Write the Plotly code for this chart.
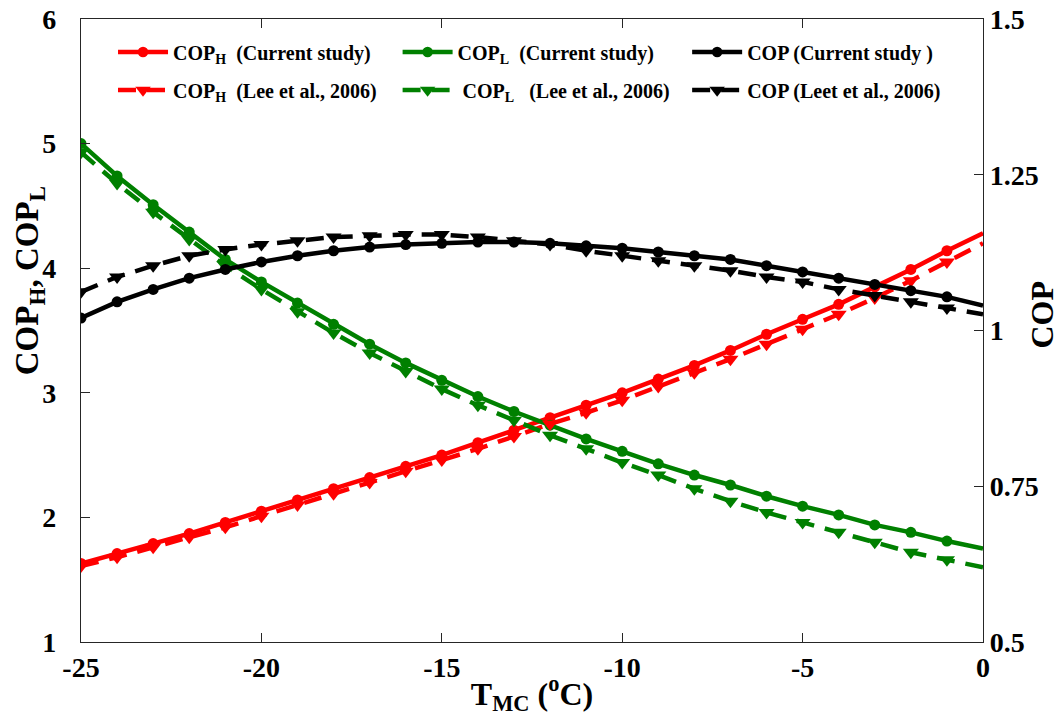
import plotly.graph_objects as go

# ---- data ----
t_mc = [-25, -24, -23, -22, -21, -20, -19, -18, -17, -16, -15, -14, -13,
        -12, -11, -10, -9, -8, -7, -6, -5, -4, -3, -2, -1, 0]

coph_current = [1.63, 1.71, 1.79, 1.87, 1.96, 2.05, 2.14, 2.23, 2.32, 2.41, 2.50, 2.60, 2.70,
                2.80, 2.90, 3.00, 3.11, 3.22, 3.34, 3.47, 3.59, 3.71, 3.85, 3.99, 4.14, 4.28]
coph_lee = [1.61, 1.68, 1.76, 1.84, 1.92, 2.01, 2.10, 2.19, 2.28, 2.37, 2.46, 2.55, 2.65,
            2.75, 2.84, 2.94, 3.05, 3.16, 3.27, 3.39, 3.51, 3.63, 3.76, 3.90, 4.05, 4.20]

copl_current = [5.00, 4.74, 4.51, 4.29, 4.07, 3.89, 3.72, 3.55, 3.39, 3.24, 3.10, 2.97, 2.85,
                2.74, 2.63, 2.53, 2.43, 2.34, 2.26, 2.17, 2.09, 2.02, 1.94, 1.88, 1.81, 1.75]
copl_lee = [4.93, 4.68, 4.45, 4.23, 4.02, 3.83, 3.65, 3.48, 3.32, 3.17, 3.03, 2.90, 2.78,
            2.66, 2.55, 2.44, 2.34, 2.23, 2.13, 2.04, 1.96, 1.88, 1.80, 1.72, 1.66, 1.60]

cop_current = [1.020, 1.046, 1.066, 1.084, 1.098, 1.110, 1.120, 1.128, 1.134, 1.138, 1.140,
               1.142, 1.142, 1.140, 1.136, 1.132, 1.126, 1.120, 1.114, 1.104, 1.094, 1.084,
               1.074, 1.064, 1.054, 1.040]
cop_lee = [1.062, 1.086, 1.104, 1.120, 1.130, 1.138, 1.144, 1.150, 1.152, 1.154, 1.154,
           1.150, 1.144, 1.138, 1.128, 1.120, 1.112, 1.104, 1.096, 1.086, 1.078, 1.066,
           1.056, 1.046, 1.036, 1.026]

left_ticks = [1, 2, 3, 4, 5, 6]
right_ticks = [0.5, 0.75, 1, 1.25, 1.5]
right_tick_labels = ["0.5", "0.75", "1", "1.25", "1.5"]
x_ticks = [-25, -20, -15, -10, -5, 0]
x_tick_labels = ["-25", "-20", "-15", "-10", "-5", "0"]

FONT = "Liberation Serif"
RED, GREEN, BLACK = "#ff0000", "#008000", "#000000"

n = len(t_mc)
circ_sizes = [11] * (n - 1) + [0]
tri_sizes = [14] * (n - 1) + [0]

fig = go.Figure()

def add(y, name, color, dash, symbol, sizes, yaxis, legend):
    fig.add_trace(go.Scatter(
        x=t_mc, y=y, name=name, mode="lines+markers", yaxis=yaxis, legend=legend,
        line=dict(color=color, width=4.5, dash=dash),
        marker=dict(symbol=symbol, size=sizes, color=color, opacity=1, line=dict(width=0)),
        cliponaxis=True,
    ))

DASH = "18px,11px"
add(coph_current, "<b>COP<sub>H</sub>  (Current study)</b>", RED, "solid", "circle", circ_sizes, "y", "legend")
add(copl_current, "<b>COP<sub>L</sub>  (Current study)</b>", GREEN, "solid", "circle", circ_sizes, "y", "legend2")
add(cop_current, "<b>COP (Current study )</b>", BLACK, "solid", "circle", circ_sizes, "y2", "legend3")
add(coph_lee, "<b>COP<sub>H</sub>  (Lee et al., 2006)</b>", RED, DASH, "triangle-down", tri_sizes, "y", "legend4")
add(copl_lee, "<b> COP<sub>L</sub>   (Lee et al., 2006)</b>", GREEN, DASH, "triangle-down", tri_sizes, "y", "legend5")
add(cop_lee, "<b>COP (Leet et al., 2006)</b>", BLACK, DASH, "triangle-down", tri_sizes, "y2", "legend6")

axis_common = dict(
    showline=True, linecolor="#262626", linewidth=1.2,
    ticks="inside", ticklen=9, tickwidth=1.2, tickcolor="#262626",
    showgrid=False, zeroline=False, automargin=False,
    tickfont=dict(family=FONT, size=28, color="black", weight="bold"),
)

def legend_at(x, y):
    return dict(
        x=x, y=y, orientation="h", bgcolor="rgba(0,0,0,0)", borderwidth=0,
        font=dict(family=FONT, size=20, color="black"),
        xanchor="left", yanchor="middle", itemwidth=50,
    )

col_x = [0.0355, 0.351, 0.672]
row_y = [0.947, 0.886]

fig.update_layout(
    width=1060, height=723,
    margin=dict(l=81, r=77, t=19, b=81),
    paper_bgcolor="white", plot_bgcolor="white",
    showlegend=True,
    xaxis=dict(
        range=[-25, 0], tickvals=x_ticks, ticktext=x_tick_labels, mirror="ticks",
        title=dict(text="<b>T<sub>MC</sub> (<sup>o</sup>C)</b>",
                   font=dict(family=FONT, size=32, color="black"), standoff=0),
        **axis_common,
    ),
    yaxis=dict(
        range=[1, 6], tickvals=left_ticks, ticklabelstandoff=18,
        **axis_common,
    ),
    yaxis2=dict(
        range=[0.5, 1.5], tickvals=right_ticks, ticktext=right_tick_labels,
        overlaying="y", side="right",
        **axis_common,
    ),
    annotations=[
        dict(text="<b>COP<sub>H</sub>, COP<sub>L</sub></b>", textangle=-90,
             xref="paper", yref="paper", x=-0.057, y=0.58,
             xanchor="center", yanchor="middle", showarrow=False,
             font=dict(family=FONT, size=33, color="black")),
        dict(text="<b>COP</b>", textangle=-90,
             xref="paper", yref="paper", x=1.065, y=0.525,
             xanchor="center", yanchor="middle", showarrow=False,
             font=dict(family=FONT, size=32, color="black")),
    ],
    legend=legend_at(col_x[0], row_y[0]),
    legend2=legend_at(col_x[1], row_y[0]),
    legend3=legend_at(col_x[2], row_y[0]),
    legend4=legend_at(col_x[0], row_y[1]),
    legend5=legend_at(col_x[1], row_y[1]),
    legend6=legend_at(col_x[2], row_y[1]),
)

fig.write_html("out.html")
